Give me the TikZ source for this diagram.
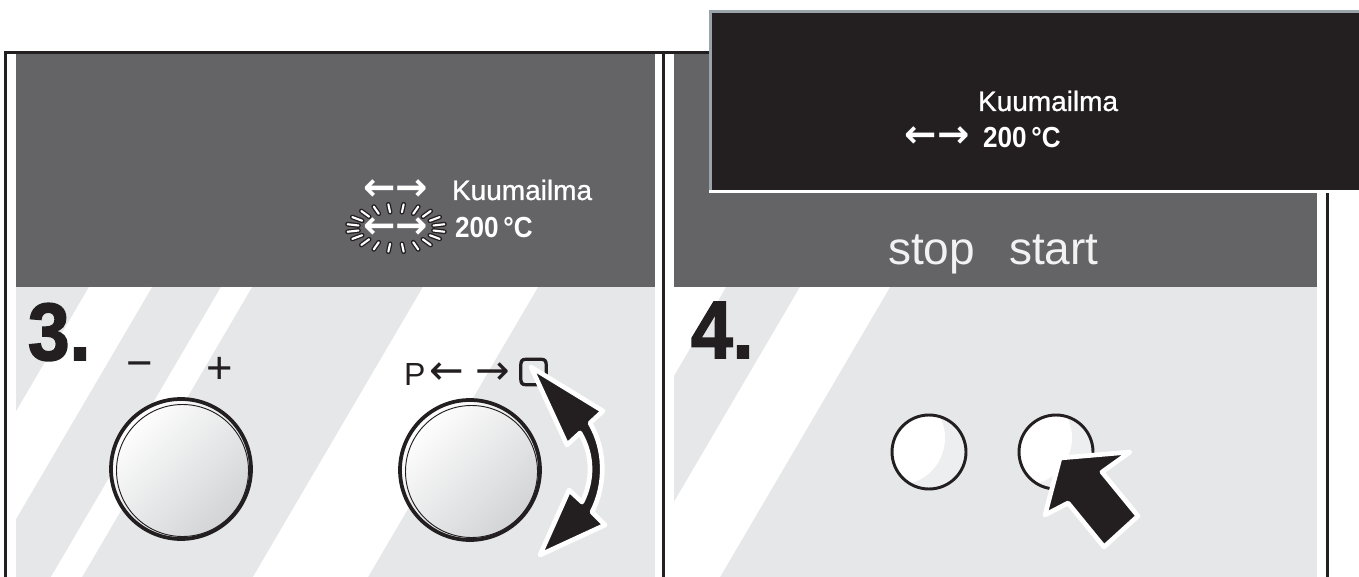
\documentclass[tikz,border=0pt]{standalone}
\usepackage{fontspec}
\setmainfont{Liberation Sans}
\newfontfamily\medf{Liberation Sans}[FakeBold=0.9]
\newfontfamily\condf{Liberation Sans}[FakeStretch=0.9]
\newfontfamily\heavyf{Liberation Sans}[BoldFeatures={FakeBold=2,FakeStretch=0.92}]
\newfontfamily\arrf{DejaVu Sans}
\newfontfamily\boxf{DejaVu Sans}[FakeBold=3]
\definecolor{dispgrey}{HTML}{646466}
\definecolor{panelgrey}{HTML}{E6E7E8}
\definecolor{ink}{HTML}{231F20}
\definecolor{edgeblue}{HTML}{9AA3AA}
\definecolor{knobgrey}{HTML}{D2D3D5}
\definecolor{btngrey}{HTML}{EDEEEF}
\definecolor{stoptext}{HTML}{F2F2F2}
\tikzset{
  frameline/.style={ink, line width=2.3pt},
  txt/.style={inner sep=0pt, outer sep=0pt},
  knob/.style={circle, draw=ink, line width=2.8pt, minimum size=105pt, inner sep=0pt,
    top color=white, bottom color=knobgrey, shading angle=45},
  btn/.style={circle, draw=ink, line width=2.2pt, minimum size=55.5pt, inner sep=0pt, fill=btngrey,
    path picture={\fill[white] ([shift={(-31,-14)}]path picture bounding box.center) circle[radius=47];}},
  rayout/.style={ink, line width=3.6pt, line cap=round},
  rayin/.style={white, line width=1.6pt, line cap=round},
  bigarrow/.style={fill=ink, draw=white, line width=3.5pt, line join=round},
}
\begin{document}
\begin{tikzpicture}[x=0.75pt,y=-0.75pt]
\useasboundingbox (0,0) rectangle (1359,577);
\fill[white] (0,0) rectangle (1359,577);

% ---------- left panel ----------
\fill[dispgrey] (16,54) rectangle (655,287);
\fill[panelgrey] (16,287) rectangle (655,577);
\begin{scope}
  \clip (16,287) rectangle (655,577);
  \fill[white] (89,287) -- (152,287) -- (-18,577) -- (-81,577) -- cycle;
  \fill[white] (221,287) -- (252,287) -- (82,577) -- (51,577) -- cycle;
  \fill[white] (423,287) -- (538,287) -- (368,577) -- (253,577) -- cycle;
\end{scope}

% ---------- right panel ----------
\fill[dispgrey] (674,53) rectangle (1317,287);
\fill[panelgrey] (674,287) rectangle (1317,577);
\begin{scope}
  \clip (674,287) rectangle (1317,577);
  \fill[white] (600,287) -- (726,287) -- (556,577) -- (430,577) -- cycle;
  \fill[white] (800,287) -- (890,287) -- (720,577) -- (630,577) -- cycle;
\end{scope}

% ---------- frame lines ----------
\draw[frameline] (5.5,51) -- (5.5,577);
\draw[frameline] (4,52.5) -- (1330,52.5);
\draw[frameline] (663.5,52) -- (663.5,577);
\draw[frameline] (1327.5,52) -- (1327.5,577);

% ---------- left display texts ----------
\node[txt, font=\arrf\bfseries\fontsize{29}{29}\selectfont, white] (arrL1) at (395.5,190) {←→};
\node[txt, font=\medf\fontsize{21}{21}\selectfont, white, anchor=base west] (kuuL) at (452,200) {Kuumailma};
\foreach \a in {9,27,...,351} {
  \draw[rayout] ({396+38*cos(\a)},{228+16*sin(\a)}) -- ({396+49*cos(\a)},{228+24*sin(\a)});
  \draw[rayin] ({396+38*cos(\a)},{228+16*sin(\a)}) -- ({396+49*cos(\a)},{228+24*sin(\a)});
}
\node[txt, font=\arrf\bfseries\fontsize{29}{29}\selectfont, white] (arrL2) at (395.5,228) {←→};
\node[txt, font=\condf\bfseries\fontsize{21.75}{22}\selectfont, white, anchor=base west] (tempL) at (455,238) {200\,°C};

% ---------- step 3 ----------
\node[txt, font=\heavyf\bfseries\fontsize{61}{61}\selectfont, ink, anchor=base west] (step3) at (28,360) {3.};
\node[txt, font=\fontsize{34}{34}\selectfont, ink] (minus) at (140,370) {−};
\node[txt, font=\fontsize{34}{34}\selectfont, ink] (plus) at (220,370) {+};
\node[txt, font=\fontsize{24}{24}\selectfont, ink, anchor=base west] (progP) at (404,385) {P};
\node[txt, font=\arrf\fontsize{31}{31}\selectfont, ink] (progL) at (447,374) {←};
\node[txt, font=\arrf\fontsize{31}{31}\selectfont, ink] (progR) at (493,374) {→};
\node[txt, font=\boxf\fontsize{27}{27}\selectfont, ink] (progBox) at (533.5,372) {▢};

\node[knob] (knobL) at (181,469) {};
\draw[ink, line width=0.7pt] ([shift={(1.5,1.5)}]knobL.center) circle[radius=66];
\node[knob] (knobR) at (470,470) {};
\draw[ink, line width=0.7pt] ([shift={(1.5,1.5)}]knobR.center) circle[radius=66];

% curved double arrow
\path[bigarrow] (531,367) -- (603,411) -- (590,423)
  .. controls (606,450) and (606,485) .. (592,512)
  -- (605,525) -- (540,555) -- (569,490) -- (582,502)
  .. controls (593,480) and (593,455) .. (580,433)
  -- (567,445) -- cycle;

% ---------- step 4 ----------
\node[txt, font=\heavyf\bfseries\fontsize{61}{61}\selectfont, ink, anchor=base west] (step4) at (691,358) {4.};
\node[txt, font=\fontsize{34.5}{35}\selectfont, stoptext, anchor=base west] (stoplbl) at (888,265) {stop};
\node[txt, font=\fontsize{34.5}{35}\selectfont, stoptext, anchor=base west] (startlbl) at (1009,265) {start};
\node[btn] (stopbtn) at (929,452) {};
\node[btn] (startbtn) at (1056,452) {};

% pointer arrow
\path[bigarrow] (1060,458) -- (1130,452) -- (1102,472) -- (1138,516)
  -- (1104,547) -- (1068,503) -- (1045,515) -- cycle;

% ---------- black display ----------
\fill[ink] (709,10) rectangle (1359,190);
\draw[edgeblue, line width=2.2pt] (710.5,190) -- (710.5,11.5) -- (1359,11.5);
\draw[white, line width=1.8pt] (709,191.5) -- (1359,191.5);
\node[txt, font=\medf\fontsize{21}{21}\selectfont, white, anchor=base west] (kuuR) at (978,111) {Kuumailma};
\node[txt, font=\arrf\bfseries\fontsize{29}{29}\selectfont, white] (arrR) at (937,137) {←→};
\node[txt, font=\condf\bfseries\fontsize{21.75}{22}\selectfont, white, anchor=base west] (tempR) at (983,148) {200\,°C};
\end{tikzpicture}
\end{document}
